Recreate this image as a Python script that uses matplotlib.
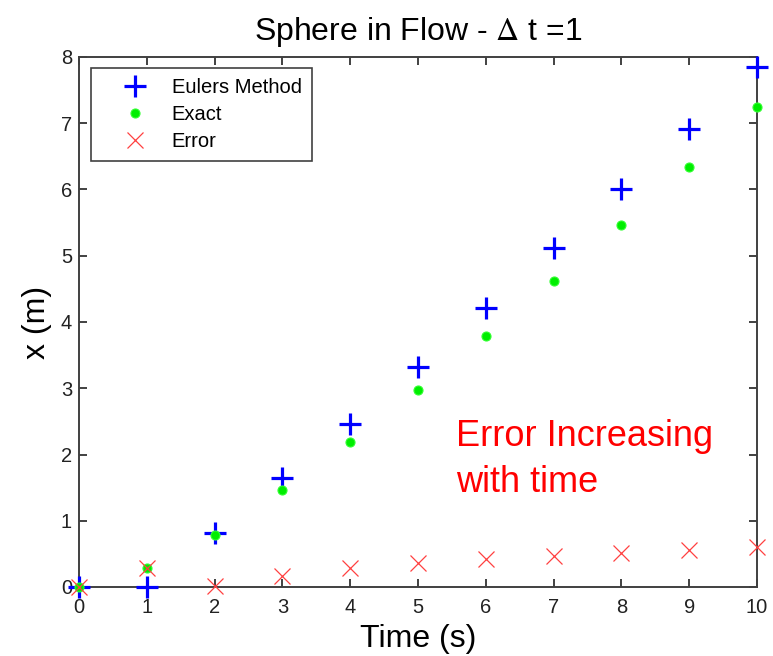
import matplotlib
matplotlib.use("Agg")
import matplotlib.pyplot as plt

plt.rcParams['font.family'] = ['Liberation Sans', 'DejaVu Sans']
plt.rcParams['mathtext.fontset'] = 'stix'

time = [0, 1, 2, 3, 4, 5, 6, 7, 8, 9, 10]
euler = [0.0, 0.0, 0.81, 1.64, 2.46, 3.32, 4.21, 5.11, 6.0, 6.91, 7.85]
exact = [0.0, 0.28, 0.79, 1.46, 2.19, 2.97, 3.79, 4.62, 5.47, 6.34, 7.24]
error = [0.0, 0.28, 0.02, 0.17, 0.28, 0.36, 0.42, 0.47, 0.52, 0.56, 0.60]
xticks = [0, 1, 2, 3, 4, 5, 6, 7, 8, 9, 10]
yticks = [0, 1, 2, 3, 4, 5, 6, 7, 8]
note_lines = ['Error Increasing', 'with time']

fig = plt.figure(figsize=(7.73, 6.56), dpi=100)
ax = fig.add_axes([79/773, 1-587/656, (757-79)/773, (587-57)/656])

ax.plot(time, euler, linestyle='none', marker='+', color='#0000ff', markersize=16,
        markeredgewidth=2.3, label='Eulers Method', clip_on=False, zorder=3)
ax.plot(time, exact, linestyle='none', marker='o', color='#00ee00', markersize=6.5,
        markeredgewidth=0.8, markeredgecolor='#33ff33', label='Exact', clip_on=False, zorder=4)
ax.plot(time, error, linestyle='none', marker='x', color='#ff4040', markersize=11,
        markeredgewidth=0.9, label='Error', clip_on=False, zorder=5)

ax.set_xlim(0, 10)
ax.set_ylim(0, 8)
ax.set_xticks(xticks)
ax.set_yticks(yticks)
ax.tick_params(direction='in', top=True, right=True, length=6, width=1.3,
               labelsize=14.5, colors='#333333', labelcolor='#222222')
ax.tick_params(axis='x', pad=8)
ax.tick_params(axis='y', pad=5)
for s in ax.spines.values():
    s.set_linewidth(1.4)
    s.set_color('#404040')

ax.set_title(r'Sphere in Flow - $\Delta$ t =1', fontsize=23, pad=12)
ax.set_xlabel('Time (s)', fontsize=23, labelpad=5)
ax.set_ylabel('x (m)', fontsize=23, labelpad=6)

ax.text(5.56, 2.13, note_lines[0], color='#ff0000', fontsize=26, ha='left', va='baseline')
ax.text(5.56, 1.43, note_lines[1], color='#ff0000', fontsize=26, ha='left', va='baseline')

leg = ax.legend(loc='upper left', bbox_to_anchor=(12/678, 1-11/530), fontsize=14.5,
                frameon=True, fancybox=False, borderpad=0.5, handlelength=3.4,
                handletextpad=0.1, labelspacing=0.4, borderaxespad=0)
leg.get_frame().set_edgecolor('#111111')
leg.get_frame().set_linewidth(1.2)

fig.savefig('out.png', dpi=100)
